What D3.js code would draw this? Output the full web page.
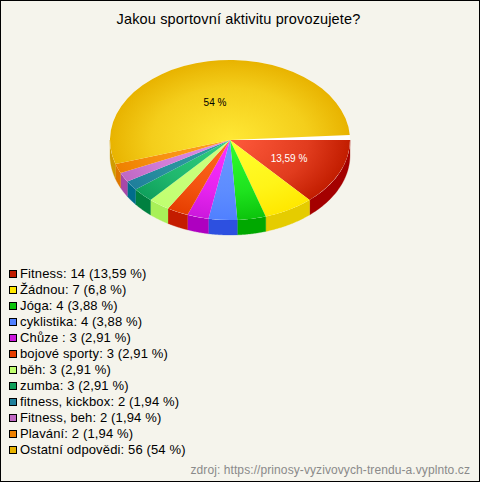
<!DOCTYPE html>
<html><head><meta charset="utf-8">
<script src="https://cdn.jsdelivr.net/npm/d3@7"></script>
<style>html,body{margin:0;padding:0;background:#f5f4ec}svg{display:block}text{font-family:"Liberation Sans",Arial,sans-serif}</style>
</head><body><svg id="c" width="480" height="482"></svg>
<script>
(function(){
const titleText = "Jakou sportovní aktivitu provozujete?";
const sourceText = "zdroj: https://prinosy-vyzivovych-trendu-a.vyplnto.cz";
const categories = ["Fitness","Žádnou","Jóga","cyklistika","Chůze ","bojové sporty","běh","zumba","fitness, kickbox","Fitness, beh","Plavání","Ostatní odpovědi"];
const counts = [14,7,4,4,3,3,3,3,2,2,2,56];
const percents = ["13,59","6,8","3,88","3,88","2,91","2,91","2,91","2,91","1,94","1,94","1,94","54"];
const edgeColors = ["#c21d00","#ffe800","#0cc40c","#5080ff","#cc18dc","#e63e00","#c0ff70","#0fa05c","#1f7f9c","#c068c4","#ee8000","#e8b300"];
const lightColors = ["#ff5a3c","#ffff30","#30ff30","#6a98ff","#ff30ff","#ff6a20","#ccff80","#30d080","#30a0a0","#e090e8","#ffa020","#ffe835"];
const wallColors = ["#a40000","#e5cc00","#00a800","#2d50e0","#ae00c0","#c41c00","#a8f058","#008040","#006c8c","#a848a8","#de7800","#d09c00"];

const svg = d3.select("#c");
const W = 480, H = 482, cx = 230, cy = 140, rx = 120, tilt = 0.667, depth = 15;
svg.append("rect").attr("x",0.5).attr("y",0.5).attr("width",W-1).attr("height",H-1).attr("fill","#f5f4ec").attr("stroke","#000");

svg.append("text").attr("x",238.5).attr("y",24).attr("text-anchor","middle").attr("font-size",14.5).attr("letter-spacing",0.14).attr("fill","#000").text(titleText);

const deg = Math.PI/180;
const pie = d3.pie().sort(null).startAngle(90*deg).endAngle((90+356.4)*deg);
const arcs = pie(counts);
const arc = d3.arc().innerRadius(0).outerRadius(rx);
const defs = svg.append("defs");
counts.forEach((_,i)=>{
  const g = defs.append("radialGradient").attr("id","g"+i).attr("gradientUnits","userSpaceOnUse").attr("cx",0).attr("cy",0).attr("r",rx);
  g.append("stop").attr("offset","0%").attr("stop-color",lightColors[i]);
  g.append("stop").attr("offset","65%").attr("stop-color",d3.interpolateRgb(lightColors[i],edgeColors[i])(0.5));
  g.append("stop").attr("offset","100%").attr("stop-color",edgeColors[i]);
});

const vis0 = 90*deg, vis1 = 270*deg;
const pt = (a,dy)=>[cx+rx*Math.sin(a), cy-rx*tilt*Math.cos(a)+dy];
const wall = svg.append("g");
arcs.forEach((d,i)=>{
  const a0 = Math.max(d.startAngle,vis0), a1 = Math.min(d.endAngle,vis1);
  if(a1<=a0) return;
  const as = d3.range(0,41).map(k=>a0+(a1-a0)*k/40);
  const pts = as.map(a=>pt(a,0)).concat(as.slice().reverse().map(a=>pt(a,depth)));
  wall.append("path").attr("d",d3.line()(pts)+"Z").attr("fill",wallColors[i]).attr("stroke",wallColors[i]).attr("stroke-width",0.3);
});

const topFace = svg.append("g").attr("transform",`translate(${cx},${cy}) scale(1,${tilt})`);
topFace.append("circle").attr("r",rx).attr("fill","#ffffff");
topFace.selectAll("path.s").data(arcs).join("path").attr("class","s")
  .attr("d",arc).attr("fill",(d,i)=>`url(#g${i})`);

svg.append("text").attr("x",215).attr("y",106).attr("text-anchor","middle").attr("font-size",10).attr("fill","#000").text(percents[11]+" %");
svg.append("text").attr("x",289).attr("y",162).attr("text-anchor","middle").attr("font-size",10).attr("fill","#fff").text(percents[0]+" %");

const yRow = d3.scalePoint().domain(d3.range(categories.length)).range([273,449]);
const leg = svg.append("g");
categories.forEach((c,i)=>{
  const y = yRow(i);
  leg.append("rect").attr("x",9.5).attr("y",y-2.5).attr("width",7).attr("height",7).attr("fill",edgeColors[i]).attr("stroke","#000");
  leg.append("text").attr("x",20).attr("y",y+5).attr("font-size",13).attr("letter-spacing",0.14).attr("fill","#000").style("white-space","pre")
    .text(`${c}: ${counts[i]} (${percents[i]} %)`);
});
svg.append("text").attr("x",470).attr("y",474).attr("text-anchor","end").attr("font-size",12).attr("letter-spacing",0.09).attr("fill","#8a8a8a").text(sourceText);
})();
</script></body></html>
